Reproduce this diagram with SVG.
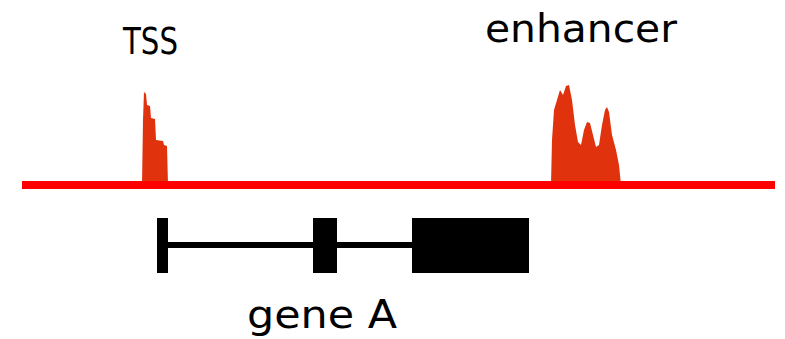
<svg xmlns="http://www.w3.org/2000/svg" width="785" height="339" viewBox="0 0 785 339">
  <defs>
    <style>
      .lbl { font-family: "DejaVu Sans", "Liberation Sans", sans-serif; fill: #000; }
      .peak { fill: #e0300f; }
      .exon { fill: #000; }
    </style>
    <filter id="soft" x="-10%" y="-10%" width="120%" height="120%">
      <feGaussianBlur stdDeviation="0.7"/>
    </filter>
  </defs>
  <rect width="785" height="339" fill="#fff"/>

  <g id="signal">
    <g id="tss-peak" filter="url(#soft)">
      <path class="peak" d="M142,185 L143,120 L144,92 L146,94 L147,105 L150,106 L151,118 L155,119 L156,140 L163,141 L164,145 L167,146 L168,185 Z"/>
    </g>
    <g id="enhancer-peak" filter="url(#soft)">
      <path class="peak" d="M551,185 L552,140 L554,110 L557,100 L560,90 L563,95 L566,86 L569,85 L572,100 L575,125 L578,142 L581,145 L584,130 L587,122 L590,123 L593,135 L596,147 L599,145 L602,125 L605,110 L607,107 L609,112 L612,135 L616,150 L619,165 L621,185 Z"/>
    </g>
    <rect id="track" x="22" y="181" width="753" height="8" fill="#ff0000"/>
  </g>

  <g id="gene-A">
    <rect x="168" y="242" width="244" height="6" class="exon"/>
    <rect x="157" y="218" width="11" height="55" class="exon"/>
    <rect x="313" y="218" width="24" height="55" class="exon"/>
    <rect x="412" y="218" width="117" height="55" class="exon"/>
  </g>

  <g id="labels">
    <text class="lbl" x="123" y="54" font-size="37" textLength="55" lengthAdjust="spacingAndGlyphs">TSS</text>
    <text class="lbl" x="485" y="42" font-size="39" textLength="192" lengthAdjust="spacingAndGlyphs">enhancer</text>
    <text class="lbl" x="247" y="328" font-size="39" textLength="150" lengthAdjust="spacingAndGlyphs">gene A</text>
  </g>
</svg>
